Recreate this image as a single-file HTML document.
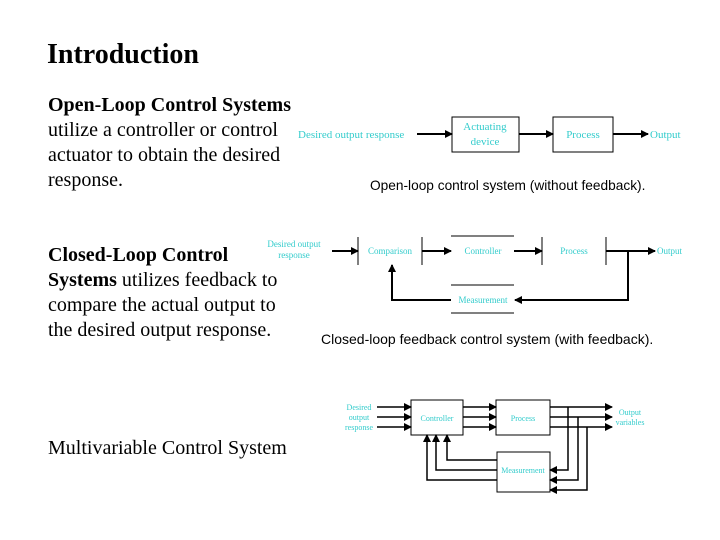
<!DOCTYPE html>
<html><head><meta charset="utf-8"><style>
body{margin:0;width:720px;height:540px;background:#fff;overflow:hidden;position:relative;font-family:"Liberation Serif",serif;}
.t{position:absolute;left:48px;font-size:20px;line-height:25px;color:#000;white-space:nowrap;}
svg{position:absolute;left:0;top:0}
</style></head><body>
<div style="position:absolute;left:47px;top:39px;font-size:28px;font-weight:bold;">Introduction</div>
<div class="t" style="top:93px"><b>Open-Loop Control Systems</b><br>utilize a controller or control<br>actuator to obtain the desired<br>response.</div>
<div class="t" style="top:243px"><b>Closed-Loop Control<br>Systems</b> utilizes feedback to<br>compare the actual output to<br>the desired output response.</div>
<div class="t" style="top:436px">Multivariable Control System</div>
<svg width="720" height="540" viewBox="0 0 720 540">
<defs><marker id="a" markerWidth="8" markerHeight="8" refX="7" refY="4" orient="auto" markerUnits="userSpaceOnUse"><path d="M0,0 L8,4 L0,8z" fill="#000"/></marker></defs>
<g font-family="Liberation Serif,serif" fill="#33cccc" font-size="11">
<text x="298" y="138">Desired output response</text>
<text x="485" y="130" text-anchor="middle">Actuating</text>
<text x="485" y="145" text-anchor="middle">device</text>
<text x="583" y="138" text-anchor="middle">Process</text>
<text x="650" y="138">Output</text>
<g font-size="9">
<text x="294" y="247" text-anchor="middle">Desired output</text>
<text x="294" y="258" text-anchor="middle">response</text>
<text x="390" y="254" text-anchor="middle">Comparison</text>
<text x="483" y="254" text-anchor="middle">Controller</text>
<text x="574" y="254" text-anchor="middle">Process</text>
<text x="657" y="254">Output</text>
<text x="483" y="303" text-anchor="middle">Measurement</text>
</g>
<g font-size="8">
<text x="359" y="410" text-anchor="middle">Desired</text>
<text x="359" y="420" text-anchor="middle">output</text>
<text x="359" y="430" text-anchor="middle">response</text>
<text x="437" y="421" text-anchor="middle">Controller</text>
<text x="523" y="421" text-anchor="middle">Process</text>
<text x="630" y="415" text-anchor="middle">Output</text>
<text x="630" y="425" text-anchor="middle">variables</text>
<text x="523" y="473" text-anchor="middle">Measurement</text>
</g>
</g>
<g font-family="Liberation Sans,sans-serif" fill="#000">
<text x="370" y="190" font-size="13.7">Open-loop control system (without feedback).</text>
<text x="321" y="344" font-size="14">Closed-loop feedback control system (with feedback).</text>
</g>
<g stroke="#000" fill="none" stroke-width="1">
<rect x="452" y="117" width="67" height="35"/>
<rect x="553" y="117" width="60" height="35"/>
<g stroke-width="2">
<line x1="417" y1="134" x2="452" y2="134" marker-end="url(#a)"/>
<line x1="519" y1="134" x2="553" y2="134" marker-end="url(#a)"/>
<line x1="613" y1="134" x2="648" y2="134" marker-end="url(#a)"/>
</g>
<line x1="358" y1="237" x2="358" y2="265"/><line x1="422" y1="237" x2="422" y2="265"/>
<line x1="451" y1="236" x2="514" y2="236"/>
<line x1="542" y1="237" x2="542" y2="265"/><line x1="606" y1="237" x2="606" y2="265"/>
<line x1="451" y1="285" x2="514" y2="285"/><line x1="451" y1="313" x2="514" y2="313"/>
<g stroke-width="2">
<line x1="332" y1="251" x2="358" y2="251" marker-end="url(#a)"/>
<line x1="422" y1="251" x2="451" y2="251" marker-end="url(#a)"/>
<line x1="514" y1="251" x2="542" y2="251" marker-end="url(#a)"/>
<line x1="606" y1="251" x2="655" y2="251" marker-end="url(#a)"/>
<polyline points="628,251 628,300 515,300" marker-end="url(#a)"/>
<polyline points="451,300 392,300 392,265" marker-end="url(#a)"/>
</g>
<rect x="411" y="400" width="52" height="35"/>
<rect x="496" y="400" width="54" height="35"/>
<rect x="497" y="452" width="53" height="40"/>
<g stroke-width="1.5">
<line x1="377" y1="407" x2="411" y2="407" marker-end="url(#a)"/>
<line x1="377" y1="417" x2="411" y2="417" marker-end="url(#a)"/>
<line x1="377" y1="427" x2="411" y2="427" marker-end="url(#a)"/>
<line x1="463" y1="407" x2="496" y2="407" marker-end="url(#a)"/>
<line x1="463" y1="417" x2="496" y2="417" marker-end="url(#a)"/>
<line x1="463" y1="427" x2="496" y2="427" marker-end="url(#a)"/>
<line x1="550" y1="407" x2="612" y2="407" marker-end="url(#a)"/>
<line x1="550" y1="417" x2="612" y2="417" marker-end="url(#a)"/>
<line x1="550" y1="427" x2="612" y2="427" marker-end="url(#a)"/>
<polyline points="568,407 568,470 550,470" marker-end="url(#a)"/>
<polyline points="578,417 578,480 550,480" marker-end="url(#a)"/>
<polyline points="587,427 587,490 550,490" marker-end="url(#a)"/>
<polyline points="497,460 447,460 447,435" marker-end="url(#a)"/>
<polyline points="497,470 436,470 436,435" marker-end="url(#a)"/>
<polyline points="497,480 427,480 427,435" marker-end="url(#a)"/>
</g>
</g>
</svg>
</body></html>
